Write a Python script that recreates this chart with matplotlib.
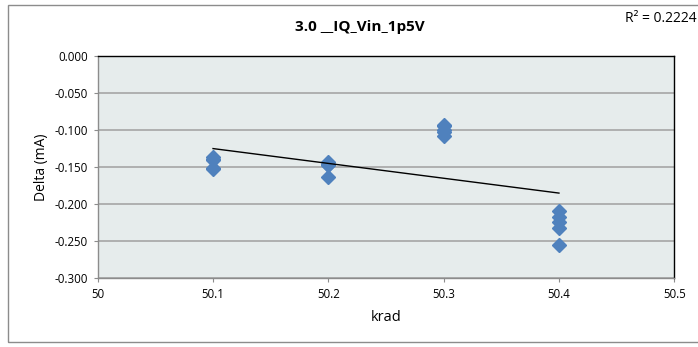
import numpy as np
import matplotlib
matplotlib.use("Agg")
import matplotlib.pyplot as plt
from matplotlib.patches import Rectangle

# data (5 parts per dose step)
krad = [50.1] * 5 + [50.2] * 5 + [50.3] * 5 + [50.4] * 5
delta = [-0.137, -0.139, -0.141, -0.151, -0.153,
         -0.144, -0.146, -0.147, -0.148, -0.163,
         -0.093, -0.095, -0.100, -0.103, -0.108,
         -0.209, -0.217, -0.224, -0.232, -0.256]
xticks = [50, 50.1, 50.2, 50.3, 50.4, 50.5]
yticks = [0.0, -0.05, -0.1, -0.15, -0.2, -0.25, -0.3]
title = "3.0 __IQ_Vin_1p5V"
r2_text = "R² = 0.2224"

plt.rcParams['font.family'] = ['Open Sans', 'DejaVu Sans']

fig = plt.figure(figsize=(6.98, 3.47), dpi=100)
ax = fig.add_axes([0.140, 0.199, 0.826, 0.640])

# outer chart frame
fig.patches.append(Rectangle((0.012, 0.015), 0.995, 0.97, transform=fig.transFigure,
                             fill=False, edgecolor='#8c8c8c', linewidth=1))

ax.set_facecolor('#e6ecec')
ax.set_xlim(50, 50.5)
ax.set_ylim(-0.3, 0.0)
ax.set_xticks(xticks)
ax.set_xticklabels(["50", "50.1", "50.2", "50.3", "50.4", "50.5"])
ax.set_yticks(yticks)
ax.set_yticklabels(["%.3f" % v for v in yticks])
ax.yaxis.grid(True, color='#a6a6a6', linewidth=1.2)
ax.set_axisbelow(True)
for s in ax.spines.values():
    s.set_color('black')
    s.set_linewidth(1)
ax.spines['left'].set_color('#8c8c8c')
ax.spines['bottom'].set_color('#8c8c8c')
ax.tick_params(labelsize=8.3, length=3, color='#8c8c8c', pad=4)

ax.plot(krad, delta, linestyle='none', marker='D', markersize=7,
        color='#4f81bd', markeredgecolor='#4f81bd')

# linear trendline
k, b = np.polyfit(krad, delta, 1)
xs = np.array([min(krad), max(krad)])
ax.plot(xs, k * xs + b, color='black', linewidth=1)

ax.set_xlabel("krad", fontsize=10.5, labelpad=7)
ax.set_ylabel("Delta (mA)", fontsize=10)
fig.text(0.516, 0.922, title, fontsize=11, fontweight='bold', ha='center', va='center')
fig.text(0.998, 0.948, r2_text, fontsize=10, ha='right', va='center')

fig.savefig("out.png", dpi=100)
